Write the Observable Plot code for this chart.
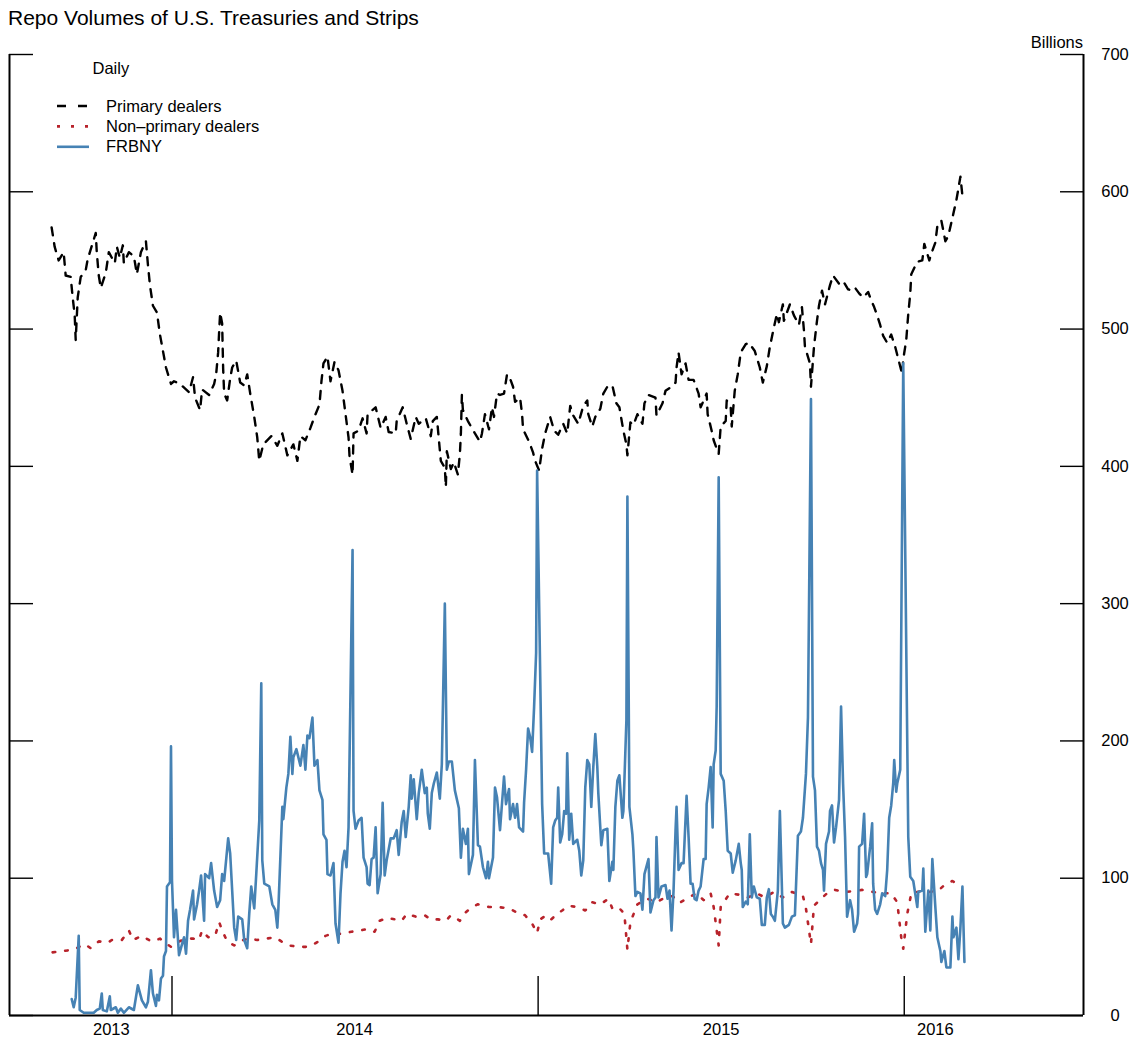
<!DOCTYPE html>
<html><head><meta charset="utf-8">
<script src="https://cdn.jsdelivr.net/npm/d3@7"></script>
<script src="https://cdn.jsdelivr.net/npm/@observablehq/plot@0.6"></script>
<style>
body{margin:0;background:#fff;font-family:"Liberation Sans",Arial,sans-serif;color:#000;}
#title{height:36px;box-sizing:border-box;padding-left:8px;padding-top:7px;font-size:21px;line-height:21px;white-space:nowrap;}
#chart svg{display:block;overflow:visible;}
</style></head><body>
<div id="title">Repo Volumes of U.S. Treasuries and Strips</div>
<div id="chart"></div>
<script>
// Each point: [days after 2014-01-01, billions of dollars]
const primaryDealers = [[-120,574],[-117,560],[-113,550],[-108,556],[-106,539],[-101,538],[-99,523],[-97,510],[-96,492],[-94,523],[-91,538],[-86,543],[-84,551],[-76,570],[-75,556],[-73,539],[-71,530],[-66,541],[-63,556],[-57,548],[-55,560],[-52,552],[-49,561],[-48,548],[-43,556],[-38,553],[-35,540],[-31,556],[-26,564],[-24,547],[-22,532],[-19,517],[-15,512],[-12,496],[-8,480],[-6,472],[-1,460],[2,462],[8,460],[17,454],[21,465],[23,450],[28,441],[30,456],[37,452],[42,460],[44,467],[46,483],[47,498],[48,512],[50,504],[51,471],[52,453],[55,448],[58,464],[60,472],[64,477],[68,461],[72,459],[75,467],[78,453],[82,436],[85,421],[87,404],[91,416],[99,422],[105,415],[110,424],[115,408],[121,416],[125,404],[128,422],[133,419],[138,428],[142,436],[147,445],[149,462],[151,475],[155,480],[158,462],[162,476],[166,470],[170,455],[173,438],[176,421],[177,407],[180,394],[181,424],[186,426],[190,435],[194,424],[195,438],[203,443],[208,428],[213,436],[216,425],[223,424],[224,433],[230,443],[234,431],[238,420],[243,436],[246,431],[253,435],[258,422],[260,433],[264,436],[266,420],[268,404],[272,399],[273,385],[274,411],[278,398],[281,403],[285,394],[287,409],[288,424],[289,452],[290,441],[295,433],[302,424],[307,418],[309,424],[312,438],[316,427],[319,443],[321,436],[324,453],[327,452],[331,453],[334,467],[337,464],[340,458],[342,447],[347,450],[349,438],[350,427],[356,418],[360,410],[362,404],[366,397],[369,413],[372,424],[377,436],[381,426],[385,423],[390,431],[394,424],[397,444],[400,437],[405,431],[410,444],[414,448],[415,438],[419,429],[422,436],[427,442],[430,453],[434,458],[439,459],[443,446],[446,443],[450,426],[453,416],[454,408],[457,432],[460,430],[464,438],[469,431],[471,446],[475,452],[482,450],[483,437],[489,446],[492,455],[498,458],[502,461],[503,472],[505,483],[508,467],[512,475],[515,463],[520,463],[525,453],[527,443],[533,453],[534,438],[538,426],[540,419],[545,409],[547,429],[552,433],[553,448],[557,443],[558,429],[561,455],[564,467],[567,483],[572,489],[575,490],[581,484],[586,472],[589,461],[593,473],[596,487],[600,501],[603,511],[605,505],[609,518],[610,506],[616,518],[620,510],[625,503],[628,516],[630,499],[631,487],[636,475],[637,458],[640,487],[643,506],[645,517],[648,528],[651,518],[656,532],[659,539],[665,533],[669,535],[674,529],[678,528],[681,530],[685,526],[689,523],[694,527],[697,521],[700,516],[703,510],[706,503],[709,495],[713,490],[717,496],[721,487],[728,467],[729,478],[732,492],[734,511],[736,526],[737,540],[743,549],[748,550],[750,562],[755,550],[757,555],[761,563],[763,575],[767,579],[771,564],[774,568],[778,581],[782,594],[786,611],[788,597]];

const nonPrimaryDealers = [[-119,46],[-108,47],[-98,48],[-87,52],[-81,49],[-73,54],[-64,53],[-60,55],[-50,55],[-43,62],[-39,55],[-30,58],[-23,55],[-19,54],[-12,56],[-7,53],[-1,50],[4,53],[14,56],[21,56],[27,55],[30,62],[36,57],[43,58],[47,68],[50,62],[55,54],[62,51],[71,55],[77,56],[85,55],[94,56],[103,57],[109,54],[117,51],[126,50],[135,50],[144,53],[153,58],[161,60],[168,59.5],[179,61],[188,62],[195,63],[202,61],[207,69],[214,71],[223,70],[229,69],[234,74],[243,72],[252,73],[258,70],[265,70],[273,69],[278,73],[287,69],[291,74],[299,79],[305,81],[316,79],[325,79],[336,78],[344,75],[352,73],[359,67],[364,60],[367,70],[373,73],[378,70],[384,74],[389,76.5],[395,80],[404,79],[412,76.5],[419,82.5],[427,81],[435,85],[439,78],[445,79],[451,74],[454,48],[457,68],[464,81],[474,85],[483,82.5],[492,86],[499,87],[506,82],[515,86],[523,89],[530,84],[537,89],[540,79],[545,51],[547,79],[556,89],[565,88],[574,86],[583,89],[591,86],[600,90],[609,86],[618,90],[629,87],[632,78],[637,52],[640,80],[647,85],[653,89],[661,91.5],[670,90],[679,90.5],[688,91.5],[699,90],[708,89],[717,89],[723,82.5],[727,57],[729,48.6],[733,74],[737,89],[746,90.5],[755,90],[764,91],[770,95],[778,98],[784,95],[788,94]];

const frbny = [[-100,12],[-98,6],[-96,13],[-93,58],[-92,4],[-88,2],[-83,2],[-78,2],[-75,4],[-72,5],[-70,16],[-69,4],[-65,3],[-62,14],[-61,4],[-56,6],[-54,2],[-51,5],[-48,2],[-43,6],[-38,4],[-34,22],[-30,11],[-26,6],[-24,10],[-21,33],[-19,16],[-16,7],[-15,15],[-13,11],[-11,27],[-9,29],[-8,43],[-6,47],[-5,94],[-2,97],[-1,196],[0,98],[2,57],[4,77],[7,44],[10,52],[12,57],[14,45],[16,69],[18,77],[21,91],[22,70],[25,81],[27,91],[29,102],[30,91],[32,69],[33,103],[37,100],[39,111],[42,91],[45,79],[48,84],[50,103],[52,98],[56,129],[58,118],[62,64],[64,55],[66,72],[70,70],[72,55],[75,49],[77,74],[79,94],[82,78],[84,103],[87,142],[89,242],[90,113],[92,96],[97,94],[100,81],[103,77],[105,64],[106,77],[110,152],[111,143],[114,166],[116,176],[118,203],[120,176],[121,188],[124,194],[126,188],[128,182],[131,197],[133,179],[135,204],[137,202],[140,217],[142,182],[145,186],[147,164],[150,157],[151,132],[154,128],[155,103],[158,102],[161,111],[163,67],[166,53],[168,89],[170,112],[172,120],[174,108],[176,137],[180,339],[181,149],[183,136],[186,142],[189,144],[191,115],[194,108],[195,96],[197,95],[199,114],[201,115],[203,137],[205,89],[208,103],[210,155],[212,102],[214,113],[218,129],[221,129],[224,135],[226,117],[229,141],[231,149],[233,130],[236,152],[238,175],[239,158],[241,172],[244,143],[246,162],[249,179],[252,162],[254,166],[255,147],[257,136],[259,162],[261,169],[264,177],[267,158],[269,183],[272,300],[274,179],[276,185],[279,185],[282,164],[286,151],[288,115],[290,136],[293,125],[295,136],[296,103],[300,117],[302,186],[305,124],[307,123],[310,108],[313,100],[315,112],[316,100],[320,115],[322,166],[324,159],[327,135],[331,174],[333,154],[336,165],[337,143],[340,154],[342,144],[344,154],[346,137],[350,134],[351,155],[353,179],[355,209],[357,203],[359,192],[361,225],[363,264],[364,397],[369,154],[371,118],[375,118],[378,96],[380,137],[382,142],[384,144],[385,166],[387,126],[389,132],[391,149],[393,147],[394,191],[396,128],[398,147],[400,125],[404,128],[406,120],[408,102],[410,113],[412,166],[414,186],[416,183],[418,152],[420,181],[422,205],[424,181],[425,162],[428,124],[430,135],[434,136],[436,98],[439,112],[440,106],[442,152],[444,171],[446,175],[449,144],[450,149],[453,215],[454,378],[456,152],[459,132],[460,120],[462,87],[464,90],[467,89],[469,77],[471,103],[475,114],[477,75],[480,84],[482,86],[483,130],[485,86],[488,94],[492,95],[494,85],[496,91],[498,62],[500,91],[502,135],[503,152],[505,106],[508,111],[510,111],[513,160],[515,130],[517,96],[519,96],[521,85],[523,84],[525,91],[527,94],[530,114],[532,114],[533,154],[535,166],[537,181],[539,137],[540,183],[542,193],[543,225],[545,392],[547,176],[550,171],[552,149],[554,120],[557,118],[559,104],[562,113],[565,125],[567,111],[568,106],[569,79],[572,83],[574,81],[576,132],[578,86],[580,94],[583,86],[586,85],[588,66],[591,66],[593,86],[595,92],[597,74],[599,72],[601,69],[604,91],[606,149],[609,67],[611,64],[615,66],[618,72],[621,73],[624,131],[627,134],[629,144],[632,176],[634,217],[637,449],[639,174],[641,164],[643,123],[645,120],[647,111],[649,106],[650,91],[652,125],[655,134],[656,149],[658,153],[660,126],[662,137],[665,157],[667,225],[669,169],[671,130],[673,72],[676,84],[678,77],[680,61],[683,67],[684,74],[685,123],[688,125],[690,147],[692,101],[693,103],[696,123],[698,140],[699,96],[701,77],[703,74],[706,81],[708,89],[711,87],[713,106],[715,144],[717,153],[719,169],[720,186],[722,163],[723,169],[726,179],[729,475],[734,130],[736,101],[739,98],[743,79],[744,90],[748,91],[749,107],[751,61],[754,91],[756,62],[758,114],[761,79],[763,57],[766,47],[767,39],[770,47],[772,35],[776,35],[778,72],[779,57],[782,64],[784,41],[786,64],[788,94],[790,39]];

const yTicks = [0, 100, 200, 300, 400, 500, 600, 700];
const tickYears = [2014, 2015, 2016];
const seriesNames = ["Primary dealers", "Non\u2013primary dealers", "FRBNY"];
const legendTitle = "Daily";
const unitLabel = "Billions";

// ---- build ----
const base = Date.UTC(2014, 0, 1);
const toDate = d => new Date(base + d * 864e5);
const toRows = arr => arr.map(([d, v]) => ({date: toDate(d), value: v}));
const pd = toRows(primaryDealers), np = toRows(nonPrimaryDealers), fed = toRows(frbny);

const colors = {pd: "#000000", np: "#b8232b", fed: "#4682b4"};
const W = 1140, H = 1012, mL = 9, mR = 57, mT = 18, mB = 33;
const frameW = W - mL - mR, frameH = H - mT - mB;
const xDomain = [toDate(-162), toDate(908.7)];

const allDays = [...primaryDealers, ...nonPrimaryDealers, ...frbny].map(d => d[0]);
const yearLabels = d3.groups(allDays, d => toDate(d).getUTCFullYear())
  .map(([yr, ds]) => ({year: String(yr), date: toDate((d3.min(ds) + d3.max(ds)) / 2)}));
const yearStarts = tickYears.map(y => new Date(Date.UTC(y, 0, 1)));

const plot = Plot.plot({
  width: W, height: H,
  marginLeft: mL, marginRight: mR, marginTop: mT, marginBottom: mB,
  style: {fontFamily: "'Liberation Sans', Arial, sans-serif", fontSize: "16.5px", background: "#fff", color: "#000", overflow: "visible"},
  x: {type: "utc", domain: xDomain, axis: null},
  y: {domain: [0, 700], axis: null},
  marks: [
    Plot.line(pd, {x: "date", y: "value", stroke: colors.pd, strokeWidth: 2.4, strokeDasharray: "8,8"}),
    Plot.line(np, {x: "date", y: "value", stroke: colors.np, strokeWidth: 2.6, strokeDasharray: "2.6,10"}),
    Plot.line(fed, {x: "date", y: "value", stroke: colors.fed, strokeWidth: 2.6, strokeLinejoin: "round"}),
    Plot.ruleX(xDomain, {stroke: "#000", strokeWidth: 2}),
    Plot.ruleY([0], {stroke: "#000", strokeWidth: 2}),
    Plot.tickY(yTicks, {y: d => d, insetLeft: frameW - 23, stroke: "#000", strokeWidth: 1.4}),
    Plot.tickY(yTicks, {y: d => d, insetRight: frameW - 24, stroke: "#000", strokeWidth: 1.4}),
    Plot.tickX(yearStarts, {x: d => d, insetTop: frameH - 39, stroke: "#000", strokeWidth: 1.4}),
    Plot.text(yTicks, {y: d => d, text: d => String(d), frameAnchor: "right", dx: 31.5, textAnchor: "middle", fill: "#000"}),
    Plot.text(yearLabels, {x: "date", text: "year", frameAnchor: "bottom", dy: 19, textAnchor: "middle", fill: "#000"})
  ]
});
document.getElementById("chart").appendChild(plot);

// legend and unit label inside the plot area
const svg = d3.select(plot);
const g = svg.append("g")
  .attr("font-family", "'Liberation Sans', Arial, sans-serif")
  .attr("font-size", "16.5px").attr("fill", "#000").attr("text-anchor", "start");
g.append("text").attr("x", W - mR).attr("y", 12).attr("text-anchor", "end").text(unitLabel);
g.append("text").attr("x", 92.5).attr("y", 38).text(legendTitle);
const legendStyles = [
  {stroke: colors.pd, dash: "9,12", w: 2.4},
  {stroke: colors.np, dash: "3,11", w: 2.6},
  {stroke: colors.fed, dash: null, w: 2.6}
];
seriesNames.forEach((name, i) => {
  const y = 70 + 20.4 * i;
  const s = legendStyles[i];
  const line = g.append("line").attr("x1", 57).attr("x2", 89).attr("y1", y).attr("y2", y)
    .attr("stroke", s.stroke).attr("stroke-width", s.w);
  if (s.dash) line.attr("stroke-dasharray", s.dash);
  g.append("text").attr("x", 106).attr("y", y + 5.6).text(name);
});
</script></body></html>
